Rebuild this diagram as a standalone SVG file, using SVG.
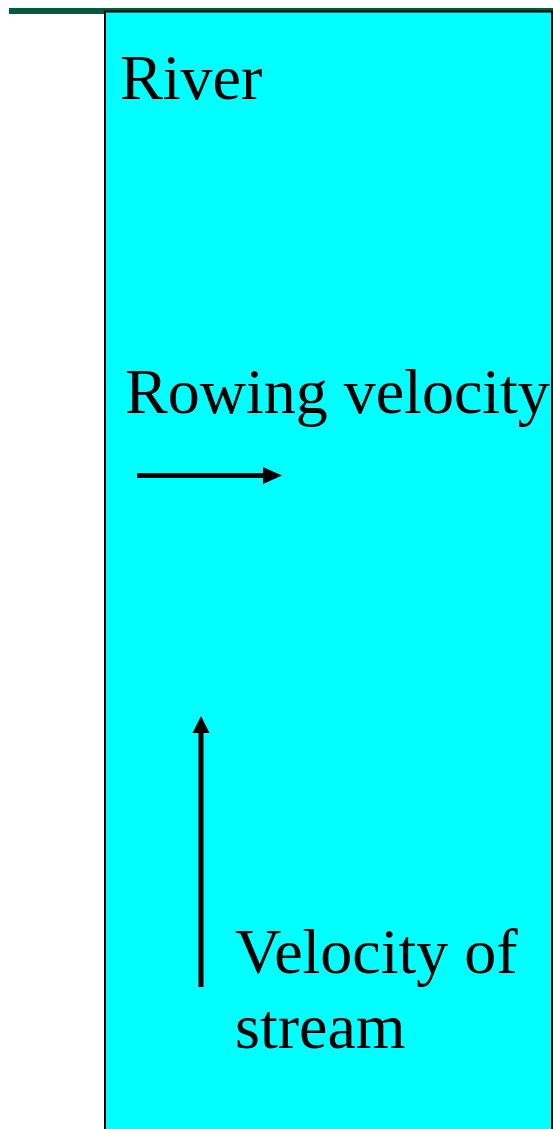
<svg xmlns="http://www.w3.org/2000/svg" width="553" height="1129" viewBox="0 0 553 1129">
<style>
.lbl{font-family:"Liberation Serif","Times New Roman",serif;font-size:64px;fill:#000}
.arr{stroke:#000;stroke-width:5;fill:none}
</style>
<rect width="553" height="1129" fill="#fff"/>
<rect x="9" y="8" width="544" height="6" fill="#005a3c"/>
<g id="river">
<rect x="105" y="11.5" width="447" height="1130" fill="#00ffff" stroke="#000" stroke-width="2"/>
<text class="lbl" x="120" y="99">River</text>
</g>
<g id="rowing">
<text class="lbl" x="125" y="413">Rowing velocity</text>
</g>
<g id="stream">
<text class="lbl" x="235" y="973">Velocity of</text>
<text class="lbl" x="235" y="1048">stream</text>
</g>
<g id="connectors">
<line class="arr" x1="137" y1="475.5" x2="266" y2="475.5"/>
<polygon points="263,467 282,475.5 263,484" fill="#000"/>
<line class="arr" x1="201" y1="987" x2="201" y2="730"/>
<polygon points="192.5,733 201,716 209.5,733" fill="#000"/>
</g>
</svg>
